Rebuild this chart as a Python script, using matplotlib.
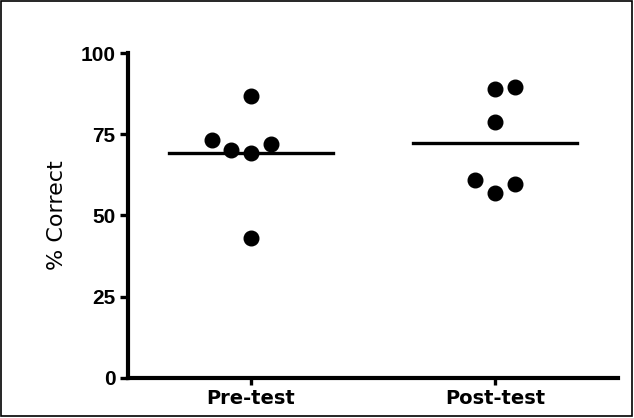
import matplotlib
matplotlib.use("Agg")
import matplotlib.pyplot as plt
import numpy as np

groups = ["Pre-test", "Post-test"]
pre_scores = [86.9, 73.2, 70.2, 69.3, 72.0, 43.0]
post_scores = [88.8, 89.4, 78.7, 60.9, 56.8, 59.6]
# column slot of each dot (scatter-dot layout, like Prism)
pre_slots = [0, -2, -1, 0, 1, 0]
post_slots = [0, 1, 0, -1, 0, 1]
yticks = [0, 25, 50, 75, 100]

plt.rcParams['font.family'] = ['DejaVu Sans']

fig = plt.figure(figsize=(6.34, 4.18), dpi=100)
ax = fig.add_axes([0.202, 0.0957, 0.773, 0.7775])

step = 0.081
for i, (vals, slots) in enumerate([(pre_scores, pre_slots), (post_scores, post_slots)]):
    xs = i + np.array(slots) * step
    ax.plot(xs, vals, 'o', color='black', markersize=10.5, zorder=3, clip_on=False)
    m = np.mean(vals)
    ax.plot([i - 0.335, i + 0.335], [m, m], color='black', lw=2.4, zorder=2)

ax.set_xlim(-0.504, 1.504)
ax.set_ylim(0, 100)
ax.set_xticks([0, 1])
ax.set_xticklabels(groups, fontsize=14, fontweight='bold')
ax.set_yticks(yticks)
ax.set_yticklabels([str(t) for t in yticks], fontsize=15, fontweight='bold',
                   family='Liberation Sans')
ax.set_ylabel("% Correct", fontsize=16, labelpad=10)

for s in ['top', 'right']:
    ax.spines[s].set_visible(False)
for s in ['left', 'bottom']:
    ax.spines[s].set_linewidth(3.0)
ax.tick_params(axis='y', width=2.4, length=6, pad=3)
ax.tick_params(axis='x', width=2.4, length=5, pad=3)

# thin frame around the whole picture
fig.patches.append(plt.Rectangle((0.002, 0.004), 0.995, 0.993, transform=fig.transFigure,
                                 fill=False, edgecolor='black', lw=1.2))

fig.savefig("out.png", dpi=100)
